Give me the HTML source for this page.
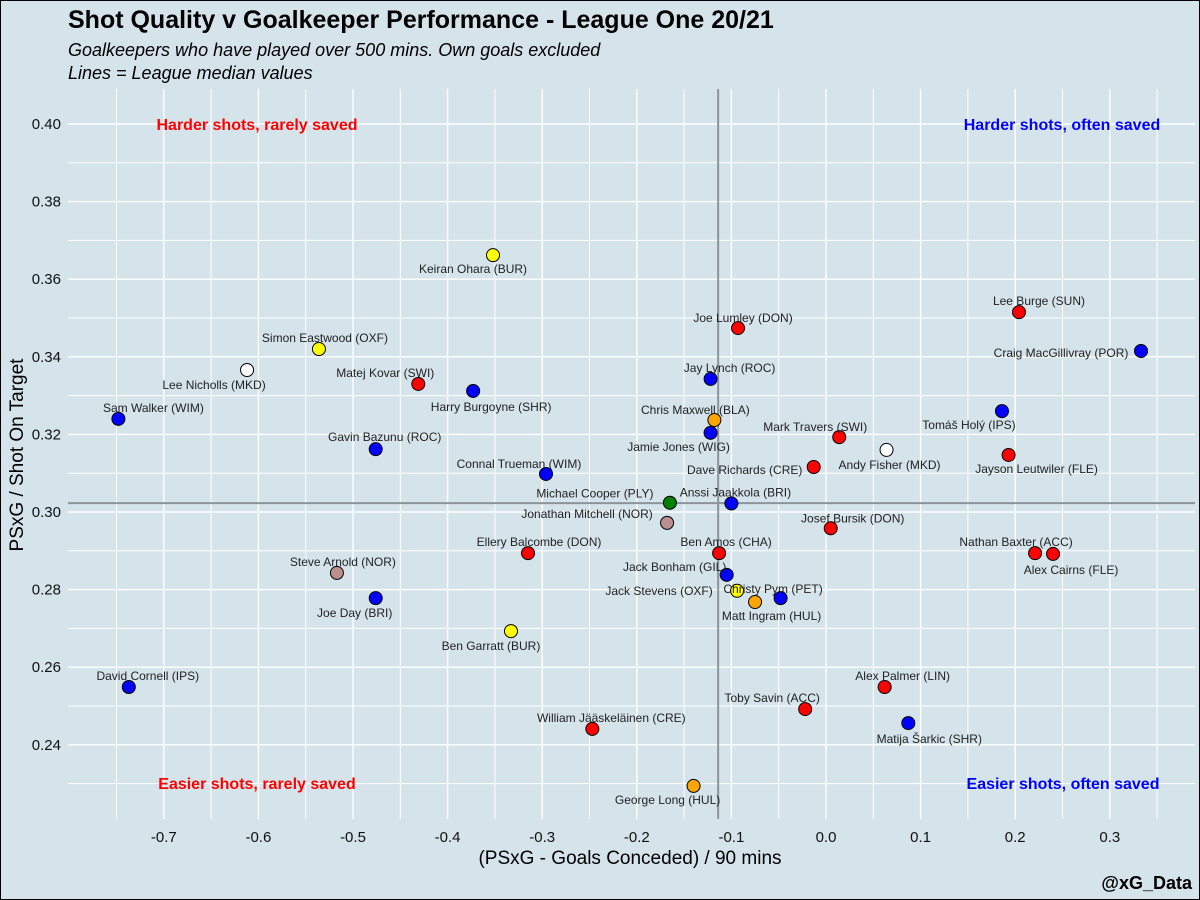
<!DOCTYPE html>
<html><head><meta charset="utf-8">
<style>
html,body{margin:0;padding:0;background:#d5e3ea;}
svg{display:block;font-family:"Liberation Sans",Arial,sans-serif;}
</style></head>
<body>
<svg id="chart" width="1200" height="900" viewBox="0 0 1200 900">
<rect x="0.5" y="0.5" width="1199" height="899" fill="#d5e3ea" stroke="#000"/>
<text x="68" y="28" font-size="25" font-weight="bold" fill="#000">Shot Quality v Goalkeeper Performance - League One 20/21</text>
<text x="68" y="56" font-size="18" font-style="italic" fill="#000">Goalkeepers who have played over 500 mins. Own goals excluded</text>
<text x="68" y="79" font-size="18" font-style="italic" fill="#000">Lines = League median values</text>
<g id="grid"></g>
<g id="axes"></g>
<g id="marks"></g>
<text x="257" y="130" font-size="16" font-weight="bold" fill="#ff0000" text-anchor="middle">Harder shots, rarely saved</text>
<text x="1062" y="130" font-size="16" font-weight="bold" fill="#0000ff" text-anchor="middle">Harder shots, often saved</text>
<text x="257" y="789" font-size="16" font-weight="bold" fill="#ff0000" text-anchor="middle">Easier shots, rarely saved</text>
<text x="1063" y="789" font-size="16" font-weight="bold" fill="#0000ff" text-anchor="middle">Easier shots, often saved</text>
<text x="630" y="864" font-size="19" fill="#000" text-anchor="middle">(PSxG - Goals Conceded) / 90 mins</text>
<text x="0" y="0" font-size="19" fill="#000" text-anchor="middle" transform="translate(23,455) rotate(-90)">PSxG / Shot On Target</text>
<text x="1192" y="889" font-size="18" font-weight="bold" fill="#000" text-anchor="end">@xG_Data</text>
</svg>
<script>
const names=["Keiran Ohara (BUR)","Lee Burge (SUN)","Joe Lumley (DON)","Simon Eastwood (OXF)","Craig MacGillivray (POR)","Lee Nicholls (MKD)","Jay Lynch (ROC)","Matej Kovar (SWI)","Harry Burgoyne (SHR)","Sam Walker (WIM)","Tomáš Holý (IPS)","Chris Maxwell (BLA)","Jamie Jones (WIG)","Mark Travers (SWI)","Gavin Bazunu (ROC)","Andy Fisher (MKD)","Jayson Leutwiler (FLE)","Dave Richards (CRE)","Connal Trueman (WIM)","Michael Cooper (PLY)","Anssi Jaakkola (BRI)","Josef Bursik (DON)","Jonathan Mitchell (NOR)","Ellery Balcombe (DON)","Ben Amos (CHA)","Nathan Baxter (ACC)","Alex Cairns (FLE)","Steve Arnold (NOR)","Jack Bonham (GIL)","Jack Stevens (OXF)","Christy Pym (PET)","Matt Ingram (HUL)","Joe Day (BRI)","Ben Garratt (BUR)","Alex Palmer (LIN)","David Cornell (IPS)","Toby Savin (ACC)","Matija Šarkic (SHR)","William Jääskeläinen (CRE)","George Long (HUL)"];
const xVals=[-0.352,0.204,-0.093,-0.536,0.333,-0.612,-0.122,-0.431,-0.373,-0.748,0.186,-0.118,-0.122,0.014,-0.476,0.064,0.193,-0.013,-0.296,-0.165,-0.100,0.005,-0.168,-0.315,-0.113,0.221,0.240,-0.517,-0.105,-0.094,-0.075,-0.048,-0.476,-0.333,0.062,-0.737,-0.022,0.087,-0.247,-0.140];
const yVals=[0.3662,0.3515,0.3474,0.3420,0.3415,0.3366,0.3343,0.3330,0.3312,0.3240,0.3260,0.3237,0.3204,0.3193,0.3162,0.3160,0.3147,0.3116,0.3098,0.3024,0.3022,0.2958,0.2972,0.2894,0.2894,0.2894,0.2892,0.2843,0.2838,0.2797,0.2768,0.2778,0.2778,0.2693,0.2549,0.2549,0.2492,0.2456,0.2441,0.2294];
const colors=["yellow","red","red","yellow","blue","white","blue","red","blue","blue","blue","orange","blue","red","blue","white","red","red","blue","green","blue","red","rosybrown","red","red","red","red","rosybrown","blue","yellow","orange","blue","blue","yellow","red","blue","red","blue","red","orange"];
const labelDx=[-20,20,5,6,-80,-33,19,-33,18,35,-33,-19,-32,-24,9,3,28,-69,-27,-75,4,22,-80,11,7,-19,18,6,-52,-78,18,-9,-21,-20,18,19,-33,21,19,-26];
const labelDy=[14,-11,-10,-11,2,15,-11,-11,16,-11,14,-10,14,-10,-12,15,14,3,-10,-9,-11,-10,-9,-11,-11,-11,16,-11,-8,0,-13,18,15,15,-11,-11,-11,16,-11,14];
const xTicks=[-0.7,-0.6,-0.5,-0.4,-0.3,-0.2,-0.1,0.0,0.1,0.2,0.3];
const xTickLabels=["-0.7","-0.6","-0.5","-0.4","-0.3","-0.2","-0.1","0.0","0.1","0.2","0.3"];
const yTicks=[0.24,0.26,0.28,0.30,0.32,0.34,0.36,0.38,0.40];
const yTickLabels=["0.24","0.26","0.28","0.30","0.32","0.34","0.36","0.38","0.40"];
const medianX=[-0.114];
const medianY=[0.3023];

const NS="http://www.w3.org/2000/svg";
const P={l:68,r:1195,t:89,b:819};
function sx(v){return 826+v*946;}
function sy(v){return 124+(0.40-v)*3880;}
function mk(tag,attrs,parent){const e=document.createElementNS(NS,tag);for(const k in attrs)e.setAttribute(k,attrs[k]);parent.appendChild(e);return e;}
const grid=document.getElementById('grid'),axes=document.getElementById('axes'),marks=document.getElementById('marks');
for(let v=-0.75;v<=0.36;v+=0.1){const x=sx(v);const l=mk('line',{x1:x,x2:x,y1:P.t,y2:P.b,stroke:'#fff','stroke-width':1},grid);

}
for(let v=0.23;v<=0.405;v+=0.02){const y=sy(v);const l=mk('line',{x1:P.l,x2:P.r,y1:y,y2:y,stroke:'#fff','stroke-width':1},grid);

}
xTicks.forEach((v,i)=>{const x=sx(v);const l=mk('line',{x1:x,x2:x,y1:P.t,y2:P.b,stroke:'#fff','stroke-width':1.4},grid);


const t=mk('text',{x:x,y:842,'font-size':15,'text-anchor':'middle',fill:'#111'},axes);t.textContent=xTickLabels[i];

});
yTicks.forEach((v,i)=>{const y=sy(v);const l=mk('line',{x1:P.l,x2:P.r,y1:y,y2:y,stroke:'#fff','stroke-width':1.4},grid);


const t=mk('text',{x:61,y:y+5,'font-size':15,'text-anchor':'end',fill:'#111'},axes);t.textContent=yTickLabels[i];

});
const mv=mk('line',{x1:sx(medianX[0]),x2:sx(medianX[0]),y1:P.t,y2:P.b,stroke:'#8a959a','stroke-width':2},grid);


const mh=mk('line',{x1:P.l,x2:P.r,y1:sy(medianY[0]),y2:sy(medianY[0]),stroke:'#8a959a','stroke-width':2},grid);


names.forEach((n,i)=>{const cx=sx(xVals[i]),cy=sy(yVals[i]);
const c=mk('circle',{cx:cx,cy:cy,r:6.5,fill:colors[i],stroke:'#000','stroke-width':1},marks);


const t=mk('text',{x:cx+labelDx[i],y:cy+labelDy[i]+4,'font-size':12,'text-anchor':'middle',fill:'#222'},marks);t.textContent=n;

});
</script>
</body></html>
